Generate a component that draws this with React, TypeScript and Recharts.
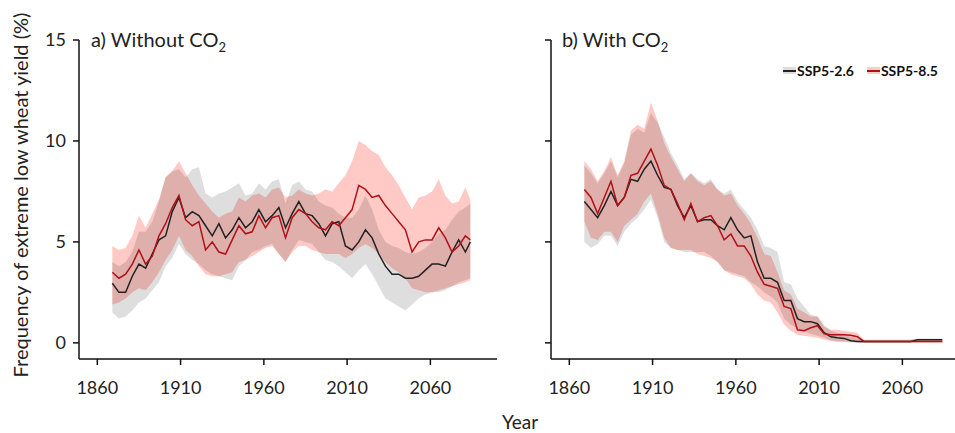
import React from "react";
import { Area, ComposedChart, Legend, Line, XAxis, YAxis } from "recharts";

// 30-yr running frequency, every 4 years
const years = [
  1869, 1873, 1877, 1881, 1885, 1889, 1893, 1897, 1901, 1905,
  1909, 1913, 1917, 1921, 1925, 1929, 1933, 1937, 1941, 1945,
  1949, 1953, 1957, 1961, 1965, 1969, 1973, 1977, 1981, 1985,
  1989, 1993, 1997, 2001, 2005, 2009, 2013, 2017, 2021, 2025,
  2029, 2033, 2037, 2041, 2045, 2049, 2053, 2057, 2061, 2065,
  2069, 2073, 2077, 2081, 2084,
];

// a) without CO2
const a26 = [
  2.95, 2.5, 2.5, 3.3, 3.9, 3.7, 4.4, 5.1, 5.3, 6.5,
  7.2, 6.2, 6.5, 6.3, 5.8, 5.3, 5.9, 5.2, 5.6, 6.2,
  5.7, 6.0, 6.6, 6.0, 6.3, 6.7, 5.7, 6.4, 7.0, 6.4,
  6.3, 5.9, 5.3, 5.9, 6.0, 4.8, 4.6, 5.0, 5.6, 5.2,
  4.4, 3.8, 3.4, 3.4, 3.2, 3.2, 3.3, 3.6, 3.9, 3.9,
  3.8, 4.5, 5.1, 4.5, 5.0,
];
const a26Lo = [
  1.5, 1.2, 1.3, 1.6, 2.0, 2.2, 2.6, 3.0, 3.8, 4.2,
  4.9, 4.4, 4.1, 3.9, 3.6, 3.4, 3.3, 3.2, 3.1, 3.8,
  4.1, 4.5, 4.6, 4.8, 4.9, 4.4, 4.0, 4.6, 5.1, 5.0,
  4.9, 4.5, 4.1, 4.0, 3.8, 3.5, 3.2, 3.6, 3.9, 3.4,
  2.8, 2.2, 2.0, 1.8, 1.6, 1.9, 2.2, 2.4, 2.5, 2.5,
  2.6, 2.8, 3.0, 3.1, 3.2,
];
const a26Hi = [
  4.0, 3.8, 4.0, 4.5, 5.5, 5.5, 6.0, 7.0, 8.2, 8.5,
  8.6, 8.2, 8.6, 8.7, 7.4, 7.2, 7.4, 7.5, 7.7, 7.9,
  7.3, 7.4, 7.9, 7.6, 8.0, 8.1, 6.9, 7.8, 8.0, 7.6,
  7.5, 7.0, 6.8, 6.7, 6.4, 6.2, 6.2, 6.6, 7.3, 6.6,
  5.6, 5.0, 4.8, 4.7, 4.5, 4.4, 4.5, 4.7, 5.0, 5.4,
  5.6, 6.1, 6.5, 6.7, 6.9,
];
const a85 = [
  3.5, 3.2, 3.4, 3.9, 4.6, 3.9, 4.3, 5.3, 5.9, 6.7,
  7.3, 6.1, 5.8, 6.0, 4.6, 5.0, 4.5, 4.4, 5.1, 5.8,
  5.4, 5.5, 6.3, 5.7, 6.2, 6.3, 5.2, 6.2, 6.6, 6.4,
  6.0, 5.7, 5.6, 6.0, 5.8, 6.2, 6.6, 7.8, 7.6, 7.2,
  7.3, 6.8, 6.4, 6.0, 5.6, 4.5, 5.0, 5.1, 5.1, 5.7,
  5.2, 4.5, 4.8, 5.3, 5.1,
];
const a85Lo = [
  1.9, 2.0, 2.2, 2.5, 2.7, 2.6, 3.0, 3.5, 4.1, 4.6,
  5.3, 4.6, 4.3, 3.8, 3.4, 3.3, 3.3, 3.4, 3.5, 4.0,
  4.1, 4.3, 4.5, 4.7, 4.8, 4.4, 4.0, 4.5, 4.8, 4.8,
  4.6, 4.5, 4.4, 4.4, 4.4, 4.2, 4.4, 4.7, 4.9, 4.7,
  4.4, 4.0, 3.7, 3.5, 3.2, 2.7, 2.6, 2.5, 2.5, 2.6,
  2.7, 2.8, 2.9, 3.0, 3.1,
];
const a85Hi = [
  4.8, 4.6, 4.7, 5.3, 6.3, 5.7, 6.4, 7.1, 8.2, 8.5,
  9.0, 8.4, 7.8, 7.3, 6.9, 6.5, 6.2, 6.4, 6.5, 7.2,
  7.0, 7.3, 7.4, 7.2, 7.6, 7.7, 7.2, 7.3, 7.6, 7.4,
  7.3, 7.4, 7.6, 7.5, 7.9, 8.3, 9.0, 10.0, 9.8, 9.5,
  9.3, 8.7, 8.3, 7.8, 7.2, 6.6, 7.2, 7.3, 7.5, 8.1,
  7.3, 6.9, 7.0, 7.7, 7.1,
];

// b) with CO2
const b26 = [
  7.0, 6.6, 6.2, 6.8, 7.5, 6.8, 7.2, 8.1, 8.0, 8.6,
  9.0, 8.3, 7.7, 7.6, 6.8, 6.2, 6.8, 6.0, 6.1, 6.1,
  5.8, 5.6, 6.2, 5.6, 5.2, 5.3, 4.0, 3.2, 3.2, 3.0,
  2.1, 2.1, 1.2, 1.05, 1.05, 0.95, 0.5, 0.3, 0.25, 0.22,
  0.1, 0.07, 0.07, 0.07, 0.07, 0.07, 0.07, 0.07, 0.07, 0.07,
  0.15, 0.15, 0.15, 0.15, 0.15,
];
const b26Lo = [
  5.0, 4.7, 4.9, 5.3, 5.3, 4.8, 5.5, 5.9, 6.2, 6.6,
  7.1, 6.2, 5.0, 4.7, 4.6, 4.5, 4.5, 4.5, 4.5, 4.3,
  4.0, 3.6, 3.5, 3.4, 3.3, 3.0, 2.8, 2.5, 2.3, 2.0,
  1.2, 0.9, 0.7, 0.55, 0.45, 0.35, 0.25, 0.12, 0.06, 0.04,
  0.02, 0, 0, 0, 0, 0, 0, 0, 0, 0,
  0.08, 0.08, 0.08, 0.08, 0.08,
];
const b26Hi = [
  8.8, 8.4, 7.9, 8.4, 9.0, 8.2, 8.9, 10.3, 10.6, 10.4,
  11.4, 10.9, 10.2, 9.4, 8.8, 8.1, 8.4, 8.1, 7.9, 8.1,
  7.6, 7.4, 7.6, 7.0, 6.6, 6.2, 5.6, 4.8, 4.7, 4.5,
  3.0, 2.9, 2.2, 1.8, 1.4, 1.3, 0.9, 0.6, 0.5, 0.45,
  0.3, 0.2, 0.15, 0.15, 0.15, 0.15, 0.15, 0.15, 0.15, 0.15,
  0.22, 0.22, 0.22, 0.22, 0.22,
];
const b85 = [
  7.6, 7.2, 6.4, 7.2, 8.0, 6.8, 7.2, 8.3, 8.4, 9.0,
  9.6, 8.8, 7.8, 7.6, 6.9, 6.1, 6.9, 6.0, 6.2, 6.3,
  5.8, 5.1, 5.4, 4.8, 4.8, 4.3, 3.5, 2.9, 2.8, 2.7,
  1.8, 1.7, 0.65, 0.6, 0.75, 0.85, 0.45, 0.4, 0.4, 0.4,
  0.38, 0.3, 0.07, 0.07, 0.07, 0.07, 0.07, 0.07, 0.07, 0.07,
  0.07, 0.07, 0.07, 0.07, 0.07,
];
const b85Lo = [
  6.0, 5.2, 5.1, 5.5, 5.5, 5.0, 5.8, 6.1, 6.4, 7.0,
  7.4, 6.4, 5.2, 4.7, 4.6, 4.6, 4.6, 4.4, 4.3, 4.2,
  4.0, 3.6, 3.4, 3.3, 3.2, 2.9, 2.4, 2.1, 2.0, 1.5,
  0.9, 0.6, 0.4, 0.35, 0.3, 0.25, 0.15, 0.1, 0.07, 0.07,
  0.05, 0.03, 0, 0, 0, 0, 0, 0, 0, 0,
  0, 0, 0, 0, 0,
];
const b85Hi = [
  9.0, 8.6, 8.0, 8.5, 9.2, 8.3, 9.0, 10.5, 10.8, 10.6,
  11.9, 11.0, 9.9, 9.2, 8.6, 8.0, 8.4, 8.0, 7.8, 8.0,
  7.6, 7.3, 7.4, 6.8, 6.4, 5.9, 5.2, 4.4, 4.3, 3.5,
  2.6, 2.4, 1.7, 1.5, 1.3, 1.3, 0.8, 0.65, 0.65, 0.6,
  0.55, 0.5, 0.15, 0.15, 0.15, 0.15, 0.15, 0.15, 0.15, 0.15,
  0.15, 0.15, 0.15, 0.15, 0.15,
];

const xTicks = [1860, 1910, 1960, 2010, 2060];
const yTicks = [0, 5, 10, 15];

const seriesNames = ["SSP5-2.6", "SSP5-8.5"];
const lineColors = ["#222222", "#b01018"];
const bandStyle = [
  { fill: "#000000", opacity: 0.13 },
  { fill: "#ff3a2a", opacity: 0.27 },
];

const makeRows = (m26: number[], lo26: number[], hi26: number[], m85: number[], lo85: number[], hi85: number[]) =>
  years.map((year, i) => ({
    year,
    s26: m26[i],
    s85: m85[i],
    band26: [lo26[i], hi26[i]],
    band85: [lo85[i], hi85[i]],
  }));

const rowsA = makeRows(a26, a26Lo, a26Hi, a85, a85Lo, a85Hi);
const rowsB = makeRows(b26, b26Lo, b26Hi, b85, b85Lo, b85Hi);

const axisColor = "#111";
const tickText = { fill: "#222", fontSize: 18 };

function LegendBox(props: any) {
  const items = (props.payload || []).filter((p: any) => p.type !== "none");
  return (
    <div style={{ display: "flex", gap: 13, fontWeight: 700, fontSize: 14, color: "#111", whiteSpace: "nowrap" }}>
      {items.map((p: any) => {
        const idx = seriesNames.indexOf(p.value);
        return (
          <span key={p.value} style={{ display: "flex", alignItems: "center" }}>
            <span
              style={{
                position: "relative",
                width: 13,
                height: 7,
                marginRight: 1,
                background: idx === 0 ? "#dddddd" : "#ffcdc8",
              }}
            >
              <span
                style={{
                  position: "absolute",
                  left: 0,
                  right: 0,
                  top: 2.5,
                  height: 2,
                  background: lineColors[idx],
                }}
              />
            </span>
            {p.value}
          </span>
        );
      })}
    </div>
  );
}

function Panel({ rows, width, marginLeft, showYLabels, showLegend }: any) {
  return (
    <ComposedChart
      width={width}
      height={433}
      data={rows}
      margin={{ top: 40, right: 3, bottom: 44, left: marginLeft }}
    >
      <XAxis
        dataKey="year"
        type="number"
        domain={[1849, 2100]}
        ticks={xTicks}
        allowDataOverflow
        height={30}
        tickSize={6}
        tickMargin={16}
        tick={tickText}
        stroke={axisColor}
        strokeWidth={1.5}
      />
      <YAxis
        type="number"
        domain={[-0.8, 15]}
        ticks={yTicks}
        allowDataOverflow
        width={40}
        tickSize={6}
        tickMargin={7}
        tick={tickText}
        tickFormatter={(v: number) => (showYLabels ? String(v) : "")}
        stroke={axisColor}
        strokeWidth={1.5}
      />
      <Area
        dataKey="band85"
        type="linear"
        stroke="none"
        fill={bandStyle[1].fill}
        fillOpacity={bandStyle[1].opacity}
        legendType="none"
        isAnimationActive={false}
      />
      <Area
        dataKey="band26"
        type="linear"
        stroke="none"
        fill={bandStyle[0].fill}
        fillOpacity={bandStyle[0].opacity}
        legendType="none"
        isAnimationActive={false}
      />
      <Line
        dataKey="s26"
        name={seriesNames[0]}
        type="linear"
        stroke={lineColors[0]}
        strokeWidth={1.5}
        dot={false}
        isAnimationActive={false}
      />
      <Line
        dataKey="s85"
        name={seriesNames[1]}
        type="linear"
        stroke={lineColors[1]}
        strokeWidth={1.5}
        dot={false}
        isAnimationActive={false}
      />
      {showLegend && (
        <Legend
          layout="horizontal"
          verticalAlign="middle"
          align="center"
          content={<LegendBox />}
          wrapperStyle={{ left: 303, top: 62, width: "auto" }}
        />
      )}
    </ComposedChart>
  );
}

export default function App() {
  return (
    <div
      style={{
        position: "absolute",
        left: 0,
        top: 0,
        width: 955,
        height: 433,
        overflow: "hidden",
        background: "#fff",
        fontFamily: "Lato, 'Open Sans', sans-serif",
        color: "#222",
      }}
    >
      <div style={{ position: "absolute", left: 0, top: 0 }}>
        <Panel rows={rowsA} width={500} marginLeft={39} showYLabels showLegend={false} />
      </div>
      <div style={{ position: "absolute", left: 480, top: 0 }}>
        <Panel rows={rowsB} width={492} marginLeft={31} showYLabels={false} showLegend />
      </div>
      <div style={{ position: "absolute", left: 91, top: 29, fontSize: 20, lineHeight: 1, whiteSpace: "nowrap" }}>
        a) Without CO<sub style={{ fontSize: 13 }}>2</sub>
      </div>
      <div style={{ position: "absolute", left: 562, top: 29, fontSize: 20, lineHeight: 1, whiteSpace: "nowrap" }}>
        b) With CO<sub style={{ fontSize: 13 }}>2</sub>
      </div>
      <div
        style={{
          position: "absolute",
          left: 20,
          top: 195,
          fontSize: 20,
          lineHeight: 1,
          whiteSpace: "nowrap",
          transform: "translate(-50%, -50%) rotate(-90deg)",
        }}
      >
        Frequency of extreme low wheat yield (%)
      </div>
      <div style={{ position: "absolute", left: 502, top: 412, fontSize: 19, lineHeight: 1, whiteSpace: "nowrap" }}>
        Year
      </div>
    </div>
  );
}
